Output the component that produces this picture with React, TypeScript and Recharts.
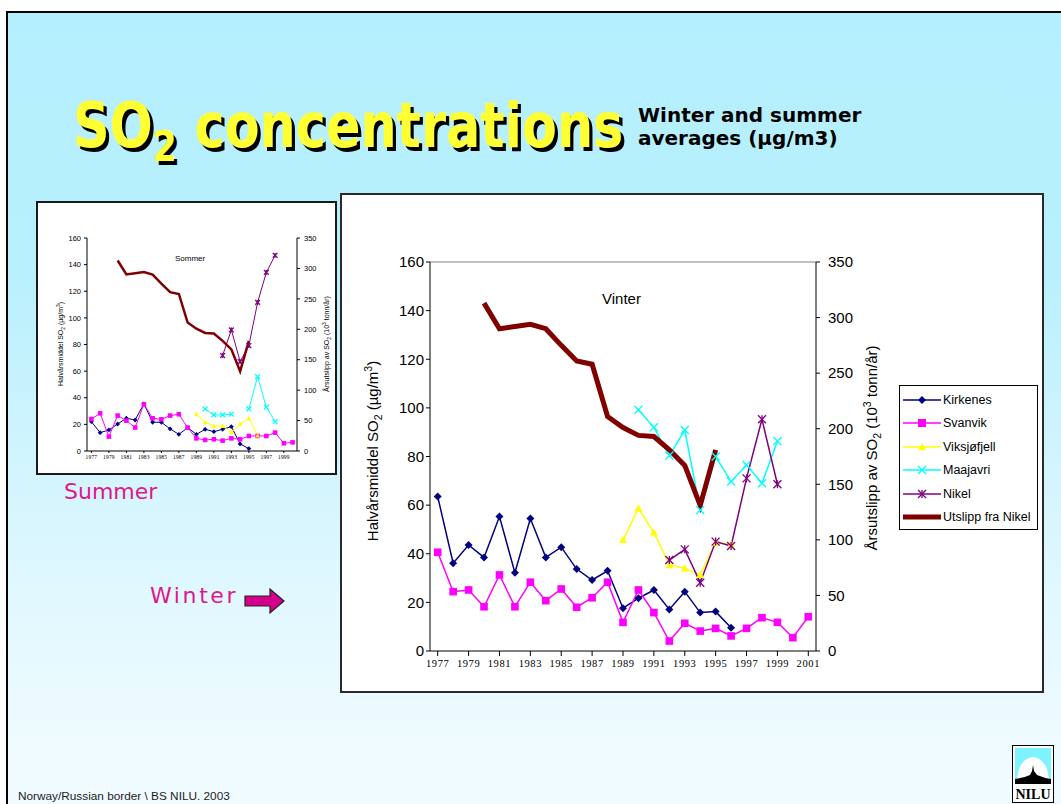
import React from 'react';
import { LineChart, Line, XAxis, YAxis, Label, ReferenceLine } from 'recharts';

// categories
const WINTER_YEARS = ['1977', '1978', '1979', '1980', '1981', '1982', '1983', '1984', '1985', '1986', '1987', '1988', '1989', '1990', '1991', '1992', '1993', '1994', '1995', '1996', '1997', '1998', '1999', '2000', '2001'];
const SUMMER_YEARS = ['1977', '1978', '1979', '1980', '1981', '1982', '1983', '1984', '1985', '1986', '1987', '1988', '1989', '1990', '1991', '1992', '1993', '1994', '1995', '1996', '1997', '1998', '1999', '2000'];
const LEFT_TICKS = [0, 20, 40, 60, 80, 100, 120, 140, 160];
const RIGHT_TICKS = [0, 50, 100, 150, 200, 250, 300, 350];

// winter averages, µg/m3 (1977-2001)
const kirkenesWinter = [63.5, 36.1, 43.6, 38.5, 55.3, 32.2, 54.5, 38.5, 42.7, 33.7, 29.2, 33.0, 17.6, 21.7, 25.1, 17.1, 24.4, 15.8, 16.2, 9.6, null, null, null, null, null];
const svanvikWinter = [40.6, 24.4, 25.1, 18.2, 31.3, 18.2, 28.3, 20.7, 25.5, 18.0, 21.9, 28.3, 11.8, 25.1, 15.8, 4.1, 11.4, 8.2, 9.3, 6.2, 9.3, 13.7, 11.8, 5.5, 14.1];
const viksjofjellWinter = [null, null, null, null, null, null, null, null, null, null, null, null, 45.7, 58.7, 48.7, 35.4, 34.0, 31.3, 44.6, 43.9, null, null, null, null, null];
const maajavriWinter = [null, null, null, null, null, null, null, null, null, null, null, null, null, 99.2, 92.0, 80.4, 90.9, 58.0, 80.0, 69.7, 76.5, 69.0, 86.4, null, null];
const nikelWinter = [null, null, null, null, null, null, null, null, null, null, null, null, null, null, null, 37.4, 41.8, 28.1, 45.0, 43.2, 71.0, 95.3, 68.6, null, null];

// summer averages, µg/m3 (1977-2000)
const kirkenesSummer = [22.0, 13.8, 15.8, 20.3, 24.6, 23.3, 35.4, 21.6, 21.6, 16.6, 12.5, 17.6, 12.5, 16.3, 14.5, 16.3, 18.3, 5.3, 1.8, null, null, null, null, null];
const svanvikSummer = [24.0, 28.3, 10.8, 26.6, 22.8, 17.6, 35.1, 24.6, 23.8, 26.6, 27.6, 17.6, 9.5, 8.3, 8.8, 7.8, 9.5, 8.8, 11.3, 11.3, 11.3, 13.8, 5.8, 6.5];
const viksjofjellSummer = [null, null, null, null, null, null, null, null, null, null, null, null, 27.6, 21.6, 18.8, 18.8, 14.0, 20.3, 24.6, 11.5, null, null, null, null];
const maajavriSummer = [null, null, null, null, null, null, null, null, null, null, null, null, null, 31.6, 27.1, 27.1, 27.6, null, 31.6, 55.9, 32.9, 22.0, null, null];
const nikelSummer = [null, null, null, null, null, null, null, null, null, null, null, null, null, null, null, 71.7, 91.0, 67.2, 79.2, 111.6, 134.2, 147.0, null, null];

// Utslipp fra Nikel, 10^3 tonn/år (right axis, 1977-2001)
const utslippNikel = [null, null, null, 313, 290, 292, 294, 290, 275, 261, 258, 211, 201, 194, 193, 181, 167, 131, 181, null, null, null, null, null, null];

const SERIES = [
  { key: 'kirkenes', name: 'Kirkenes', color: '#000080', marker: 'diamond' },
  { key: 'svanvik', name: 'Svanvik', color: '#ff00ff', marker: 'square' },
  { key: 'viksjofjell', name: 'Viksjøfjell', color: '#ffff00', marker: 'triangle' },
  { key: 'maajavri', name: 'Maajavri', color: '#00ffff', marker: 'x' },
  { key: 'nikel', name: 'Nikel', color: '#800080', marker: 'star' },
];
const EMIS_COLOR = '#800000';

const winterData = WINTER_YEARS.map((year, i) => ({
  year,
  kirkenes: kirkenesWinter[i],
  svanvik: svanvikWinter[i],
  viksjofjell: viksjofjellWinter[i],
  maajavri: maajavriWinter[i],
  nikel: nikelWinter[i],
  utslipp: utslippNikel[i],
}));

const summerData = SUMMER_YEARS.map((year, i) => ({
  year,
  kirkenes: kirkenesSummer[i],
  svanvik: svanvikSummer[i],
  viksjofjell: viksjofjellSummer[i],
  maajavri: maajavriSummer[i],
  nikel: nikelSummer[i],
  utslipp: utslippNikel[i],
}));

const Marker = ({ cx, cy, kind, color, s }: any) => {
  if (cx == null || cy == null || isNaN(cy)) return null;
  switch (kind) {
    case 'diamond':
      return <polygon points={`${cx},${cy - s} ${cx + s},${cy} ${cx},${cy + s} ${cx - s},${cy}`} fill={color} />;
    case 'square':
      return <rect x={cx - s} y={cy - s} width={s * 2} height={s * 2} fill={color} />;
    case 'triangle':
      return <polygon points={`${cx},${cy - s} ${cx + s},${cy + s * 0.8} ${cx - s},${cy + s * 0.8}`} fill={color} />;
    case 'x':
      return (
        <g stroke={color} strokeWidth={1.3}>
          <line x1={cx - s} y1={cy - s} x2={cx + s} y2={cy + s} />
          <line x1={cx - s} y1={cy + s} x2={cx + s} y2={cy - s} />
        </g>
      );
    case 'star':
      return (
        <g stroke={color} strokeWidth={1.3}>
          <line x1={cx - s} y1={cy - s} x2={cx + s} y2={cy + s} />
          <line x1={cx - s} y1={cy + s} x2={cx + s} y2={cy - s} />
          <line x1={cx} y1={cy - s} x2={cx} y2={cy + s} />
        </g>
      );
    default:
      return null;
  }
};

const LeftTitle = ({ x, y, fs }: any) => (
  <text x={x} y={y} transform={`rotate(-90 ${x} ${y})`} textAnchor="middle" fontSize={fs} fontFamily="'Liberation Sans', Arial, sans-serif" fill="#000">
    Halvårsmiddel SO<tspan dy={fs * 0.25} fontSize={fs * 0.7}>2</tspan>
    <tspan dy={-fs * 0.25}> (µg/m</tspan>
    <tspan dy={-fs * 0.4} fontSize={fs * 0.7}>3</tspan>
    <tspan dy={fs * 0.4}>)</tspan>
  </text>
);

const RightTitle = ({ x, y, fs }: any) => (
  <text x={x} y={y} transform={`rotate(-90 ${x} ${y})`} textAnchor="middle" fontSize={fs} fontFamily="'Liberation Sans', Arial, sans-serif" fill="#000">
    Årsutslipp av SO<tspan dy={fs * 0.25} fontSize={fs * 0.7}>2</tspan>
    <tspan dy={-fs * 0.25}> (10</tspan>
    <tspan dy={-fs * 0.4} fontSize={fs * 0.7}>3</tspan>
    <tspan dy={fs * 0.4}> tonn/år)</tspan>
  </text>
);

const So2Chart = ({ data, cfg }: any) => {
  const tick = { fontSize: cfg.tickFont, fill: '#000', fontFamily: "'Liberation Sans', Arial, sans-serif" };
  const xTick = { fontSize: cfg.xTickFont, fill: '#000', fontFamily: "'Liberation Serif', 'Times New Roman', serif", letterSpacing: cfg.xSpacing };
  return (
    <LineChart width={cfg.width} height={cfg.height} data={data} margin={cfg.margin}>
      <XAxis dataKey="year" interval={1} padding={{ left: cfg.xPad, right: cfg.xPad }} tick={xTick} tickSize={cfg.xTickSize} tickMargin={cfg.xTickMargin} stroke="#000" height={cfg.xHeight} />
      <YAxis yAxisId="left" domain={[0, 160]} ticks={LEFT_TICKS} interval={0} width={cfg.leftWidth} tick={tick} tickSize={cfg.yTickSize} tickMargin={cfg.leftTickMargin} stroke="#000">
        <Label content={() => <LeftTitle x={cfg.leftTitle[0]} y={cfg.leftTitle[1]} fs={cfg.titleFont} />} />
      </YAxis>
      <YAxis yAxisId="right" orientation="right" domain={[0, 350]} ticks={RIGHT_TICKS} interval={0} width={cfg.rightWidth} tick={tick} tickSize={cfg.yTickSize} tickMargin={cfg.rightTickMargin} stroke="#000">
        <Label content={() => <RightTitle x={cfg.rightTitle[0]} y={cfg.rightTitle[1]} fs={cfg.titleFont} />} />
      </YAxis>
      {cfg.topBorder && <ReferenceLine yAxisId="left" y={160} stroke="#808080" strokeWidth={1} />}
      {SERIES.map((s) => (
        <Line
          key={s.key}
          yAxisId="left"
          type="linear"
          dataKey={s.key}
          name={s.name}
          stroke={s.color}
          strokeWidth={cfg.lineW}
          isAnimationActive={false}
          dot={(p: any) => <Marker key={`${s.key}-${p.index}`} cx={p.cx} cy={p.value == null ? null : p.cy} kind={s.marker} color={s.color} s={s.marker === 'square' ? cfg.mark * 0.95 : cfg.mark} />}
          activeDot={false}
        />
      ))}
      <Line yAxisId="right" type="linear" dataKey="utslipp" name="Utslipp fra Nikel" stroke={EMIS_COLOR} strokeWidth={cfg.emisW} strokeLinejoin="miter" dot={false} activeDot={false} isAnimationActive={false} />
    </LineChart>
  );
};

const WINTER_CFG = {
  width: 701, height: 497,
  margin: { top: 68, right: 176, bottom: 15, left: 29 },
  leftWidth: 60, rightWidth: 50, xHeight: 25, xPad: 7.7,
  tickFont: 15, xTickFont: 10.5, xSpacing: 0.6,
  yTickSize: 4, leftTickMargin: 2, rightTickMargin: 8,
  xTickSize: 5, xTickMargin: 4,
  lineW: 1.5, emisW: 5, mark: 4,
  titleFont: 15, leftTitle: [37, 257], rightTitle: [536, 254],
  topBorder: true,
};

const SUMMER_CFG = {
  width: 298, height: 271,
  margin: { top: 36, right: 8, bottom: 8, left: 20 },
  leftWidth: 30, rightWidth: 30, xHeight: 14, xPad: 4.4,
  tickFont: 7.5, xTickFont: 5.5, xSpacing: 0.2,
  yTickSize: 3, leftTickMargin: 3, rightTickMargin: 4,
  xTickSize: 2, xTickMargin: 2,
  lineW: 1, emisW: 2.5, mark: 2.4,
  titleFont: 7, leftTitle: [26, 142], rightTitle: [292, 142],
  topBorder: false,
};

const LegendSample = ({ s }: any) => (
  <svg width={38} height={12} style={{ display: 'block', marginRight: 2 }}>
    <line x1={0} y1={6} x2={38} y2={6} stroke={s.color} strokeWidth={s.width} />
    {s.marker && <Marker cx={19} cy={6} kind={s.marker} color={s.color} s={4} />}
  </svg>
);

const LEGEND_ROWS = [
  ...SERIES.map((s) => ({ ...s, width: 1.5 })),
  { key: 'utslipp', name: 'Utslipp fra Nikel', color: EMIS_COLOR, marker: null, width: 5 },
];

const NiluLogo = () => (
  <svg width={42} height={58} style={{ position: 'absolute', left: 1012, top: 745 }}>
    <rect x={0.5} y={0.5} width={41} height={57} fill="#fff" stroke="#000" />
    <rect x={3} y={3} width={36} height={36} fill="#7ff2ff" />
    <path d="M5,39 Q5,14 21,12 Q37,14 37,39 Z" fill="#fff" />
    <path d="M3,39 L3,34 Q12,33 18,30 L20,26 L21,20 L22,26 L25,30 Q32,33 39,34 L39,39 Z" fill="#000" />
    <text x={21} y={54} textAnchor="middle" fontSize={14} fontWeight="bold" fontFamily="'Liberation Serif', serif" fill="#000">NILU</text>
  </svg>
);

export default function App() {
  const comic = "'Comic Sans MS', 'DejaVu Sans', sans-serif";
  return (
    <div style={{ position: 'absolute', left: 0, top: 0, width: 1061, height: 804, overflow: 'hidden', background: '#fff' }}>
      <div
        style={{
          position: 'absolute', left: 6, top: 11, width: 1100, height: 850,
          borderTop: '2px solid #000', borderLeft: '2px solid #000',
          background: 'linear-gradient(to bottom, #b4effd 0%, #b8f0fd 30%, #d9f6fe 60%, #eefbff 85%, #f3fcff 100%)',
        }}
      />
      {/* title */}
      <div
        style={{
          position: 'absolute', left: 73, top: 95, whiteSpace: 'nowrap', fontFamily: comic, fontWeight: 'bold',
          fontSize: 62, lineHeight: '62px', color: '#ffff33', textShadow: '4px 4px 0 #000',
          transform: 'scaleX(0.82)', transformOrigin: 'left top',
        }}
      >
        SO<span style={{ fontSize: 42, position: 'relative', top: 14 }}>2</span> concentrations
      </div>
      <div style={{ position: 'absolute', left: 638, top: 104, fontFamily: comic, fontWeight: 'bold', fontSize: 20, lineHeight: '23px', color: '#000', whiteSpace: 'nowrap' }}>
        Winter and summer
        <br />
        averages (µg/m3)
      </div>

      {/* summer chart */}
      <div style={{ position: 'absolute', left: 36, top: 201, width: 297, height: 270, background: '#fff', border: '2px solid #1a1a1a' }} />
      <div style={{ position: 'absolute', left: 37, top: 202 }}>
        <So2Chart data={summerData} cfg={SUMMER_CFG} />
      </div>
      <div style={{ position: 'absolute', left: 175, top: 254, fontSize: 8, fontFamily: "'Liberation Sans', Arial, sans-serif" }}>Sommer</div>

      <div style={{ position: 'absolute', left: 64, top: 479, fontFamily: comic, fontSize: 22, color: '#e0168e' }}>Summer</div>
      <div style={{ position: 'absolute', left: 150, top: 583, fontFamily: comic, fontSize: 22, letterSpacing: 2.6, color: '#e0168e' }}>Winter</div>
      <svg width={44} height={28} style={{ position: 'absolute', left: 243, top: 587 }}>
        <polygon points="2,9 27,9 27,2 41,14 27,26 27,19 2,19" fill="#d4008c" stroke="#222" strokeWidth={1.2} />
      </svg>

      {/* winter chart */}
      <div style={{ position: 'absolute', left: 340, top: 193, width: 700, height: 496, background: '#fff', border: '2px solid #2a2a2a' }} />
      <div style={{ position: 'absolute', left: 341, top: 194 }}>
        <So2Chart data={winterData} cfg={WINTER_CFG} />
      </div>
      <div style={{ position: 'absolute', left: 602, top: 290, fontSize: 15, fontFamily: "'Liberation Sans', Arial, sans-serif" }}>Vinter</div>

      {/* legend */}
      <div style={{ position: 'absolute', left: 899, top: 385, width: 137, height: 141, border: '1px solid #000', background: '#fff', paddingTop: 2 }}>
        {LEGEND_ROWS.map((r) => (
          <div key={r.key} style={{ display: 'flex', alignItems: 'center', height: 23.5, paddingLeft: 3, fontSize: 12.5, fontFamily: "'Liberation Sans', Arial, sans-serif" }}>
            <LegendSample s={r} />
            <span>{r.name}</span>
          </div>
        ))}
      </div>

      <NiluLogo />
      <div style={{ position: 'absolute', left: 18, top: 789, fontSize: 11.8, fontFamily: "'Liberation Sans', Arial, sans-serif", color: '#222', whiteSpace: 'nowrap' }}>
        Norway/Russian border \ BS NILU. 2003
      </div>
    </div>
  );
}
